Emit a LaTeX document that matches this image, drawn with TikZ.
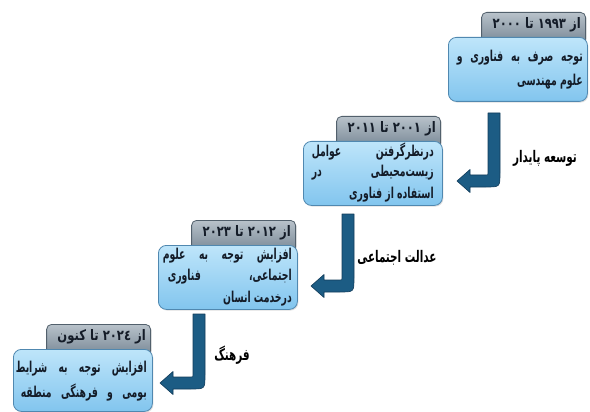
\documentclass[tikz,border=0pt]{standalone}
\usepackage{fontspec}
\usetikzlibrary{shadows}
\TeXXeTstate=1
\newfontfamily\fa[Script=Arabic,FakeStretch=0.62]{DejaVu Sans}
\newfontfamily\fahdr[Script=Arabic,FakeStretch=0.8]{DejaVu Sans}
\newfontfamily\falab[Script=Arabic,FakeStretch=0.65]{DejaVu Sans}
\definecolor{boxtop}{RGB}{190,229,250}
\definecolor{boxbot}{RGB}{130,197,238}
\definecolor{boxline}{RGB}{80,136,176}
\definecolor{hdrtop}{RGB}{184,194,202}
\definecolor{hdrbot}{RGB}{118,134,148}
\definecolor{hdrline}{RGB}{82,96,108}
\definecolor{arrfill}{RGB}{28,92,132}
\definecolor{arrline}{RGB}{18,60,90}
\definecolor{txtcol}{RGB}{20,28,40}
\newcommand\blockarrow[5]{%
  \filldraw[arrowshape] (#1,#2) -- (#1+12,#2) -- (#1+12,#3-8)
    .. controls (#1+12,#3+6) .. (#1-2,#3+6) -- (#4,#3+6) -- (#4,#3+11.5)
    -- (#5,#3) -- (#4,#3-11.5) -- (#4,#3-6) -- (#1-2,#3-6)
    .. controls (#1,#3-6) .. (#1,#3-8) -- cycle;}
\begin{document}
\begin{tikzpicture}[x=1pt,y=-1pt,
  bluebox/.style={draw=boxline, line width=0.8pt, rounded corners=8pt,
    top color=boxtop, bottom color=boxbot, minimum width=139pt, minimum height=64pt,
    anchor=north west, inner sep=0pt,
    drop shadow={opacity=0.25, shadow xshift=1pt, shadow yshift=-1.2pt}},
  hdrbox/.style={draw=hdrline, line width=0.8pt, rounded corners=5pt,
    top color=hdrtop, bottom color=hdrbot, minimum width=104pt, minimum height=32pt,
    anchor=north east, inner sep=0pt,
    drop shadow={opacity=0.2, shadow xshift=1pt, shadow yshift=-1pt}},
  hdrtxt/.style={inner sep=0pt, anchor=east, text=txtcol, font=\fontsize{14.5}{16}\selectfont\fahdr\bfseries},
  linetxt/.style={inner sep=0pt, anchor=east, text=txtcol, font=\fontsize{15}{17}\selectfont\fa\bfseries},
  labeltxt/.style={inner sep=0pt, text=black, font=\fontsize{16}{18}\selectfont\falab\bfseries},
  arrowshape/.style={fill=arrfill, draw=arrline, line width=0.6pt, line join=round}
]
\useasboundingbox (0,0) rectangle (590,412);
\fill[white] (0,0) rectangle (590,412);

% headers (behind the boxes)
\node[hdrbox] (h1) at (586,12) {};
\node[hdrbox] (h2) at (441,116) {};
\node[hdrbox] (h3) at (296,220) {};
\node[hdrbox] (h4) at (151,324) {};

% blue boxes
\node[bluebox] (b1) at (448,37) {};
\node[bluebox] (b2) at (303,141) {};
\node[bluebox] (b3) at (158,245) {};
\node[bluebox, minimum height=62pt] (b4) at (13,349) {};

% header texts
\node[hdrtxt] (h1t) at (581,24.5) {\beginR از ۱۹۹۳ تا ۲۰۰۰\endR};
\node[hdrtxt] (h2t) at (436,128.5) {\beginR از ۲۰۰۱ تا ۲۰۱۱\endR};
\node[hdrtxt] (h3t) at (291,232.5) {\beginR از ۲۰۱۲ تا ۲۰۲۳\endR};
\node[hdrtxt] (h4t) at (146,336.5) {\beginR از ۲۰۲٤ تا کنون\endR};

% box 1 text
\node[linetxt] (t11) at (583,58) {\makebox[126pt][s]{\beginR توجه صرف به فناوری و\endR}};
\node[linetxt] (t12) at (583,82) {\beginR علوم مهندسی\endR};
% box 2 text
\node[linetxt] (t21) at (434,152) {\makebox[122pt]{\beginR عوامل\endR\hfill\beginR درنظرگرفتن\endR}};
\node[linetxt] (t22) at (434,173) {\makebox[122pt]{\beginR در\endR\hfill\beginR زیست‌محیطی\endR}};
\node[linetxt] (t23) at (434,195) {\beginR استفاده از فناوری\endR};
% box 3 text
\node[linetxt] (t31) at (292,256) {\makebox[129pt][s]{\beginR افزایش توجه به علوم\endR}};
\node[linetxt] (t32) at (292,277) {\makebox[124pt]{\beginR فناوری\endR\hfill\beginR اجتماعی،\endR}};
\node[linetxt] (t33) at (292,299) {\beginR درخدمت انسان\endR};
% box 4 text
\node[linetxt] (t41) at (147,369) {\makebox[131pt][s]{\beginR افزایش توجه به شرایط\endR}};
\node[linetxt] (t42) at (147,393) {\makebox[126pt][s]{\beginR بومی و فرهنگی منطقه\endR}};

% block arrows
\blockarrow{488}{113}{181}{470}{457}
\blockarrow{342}{214}{286}{324}{311}
\blockarrow{193}{314}{383}{173}{160}

% labels
\node[labeltxt] (l1) at (545,158) {\beginR توسعه پایدار\endR};
\node[labeltxt] (l2) at (397,258) {\beginR عدالت اجتماعی\endR};
\node[labeltxt] (l3) at (232,355) {\beginR فرهنگ\endR};
\end{tikzpicture}
\end{document}
